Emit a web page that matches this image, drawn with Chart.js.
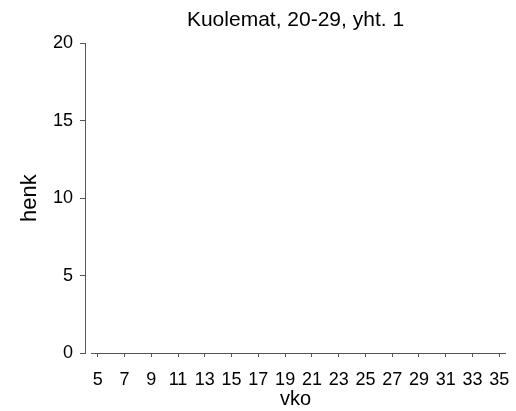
<!DOCTYPE html>
<html>
<head>
<meta charset="utf-8">
<script src="https://cdn.jsdelivr.net/npm/chart.js@4/dist/chart.umd.min.js"></script>
<style>
  html, body { margin: 0; padding: 0; background: #fff; }
  #wrap { width: 516px; height: 411px; }
</style>
</head>
<body>
<div id="wrap"><canvas id="myChart"></canvas></div>
<script>
const weeks = [5, 6, 7, 8, 9, 10, 11, 12, 13, 14, 15, 16, 17, 18, 19, 20,
  21, 22, 23, 24, 25, 26, 27, 28, 29, 30, 31, 32, 33, 34, 35];
const deaths = [0, 0, 0, 0, 0, 0, 0, 0, 0, 0, 0, 0, 0, 0, 0, 0,
  0, 0, 0, 0, 0, 0, 0, 0, 0, 0, 0, 0, 0, 0, 0];
const weekTicks = [5, 7, 9, 11, 13, 15, 17, 19, 21, 23, 25, 27, 29, 31, 33, 35];
const yTicks = [0, 5, 10, 15, 20];

const axisColor = "#555";
const fontFamily = "'Liberation Sans', Arial, sans-serif";

// x axis line only spans the bar region, like the original plot
const xAxisLine = {
  id: "xAxisLine",
  afterDraw(chart) {
    const { ctx, scales } = chart;
    const x = scales.x;
    const y0 = Math.round(scales.y.getPixelForValue(0));
    ctx.save();
    ctx.strokeStyle = axisColor;
    ctx.lineWidth = 1;
    ctx.beginPath();
    ctx.moveTo(x.getPixelForValue(weeks[0] - 0.5), y0 + 0.5);
    ctx.lineTo(x.getPixelForValue(weeks[weeks.length - 1] + 0.5), y0 + 0.5);
    ctx.stroke();
    ctx.restore();
  },
};

const ctx = document.getElementById("myChart");
new Chart(ctx, {
  type: "bar",
  data: {
    datasets: [
      {
        data: weeks.map((w, i) => ({ x: w, y: deaths[i] })),
        backgroundColor: "#808080",
        borderWidth: 0,
        barPercentage: 0.85,
        categoryPercentage: 1,
      },
    ],
  },
  options: {
    responsive: true,
    maintainAspectRatio: false,
    animation: false,
    layout: { padding: { left: 0, right: 10, top: 0, bottom: 0 } },
    plugins: {
      legend: { display: false },
      tooltip: { enabled: false },
      title: {
        display: true,
        fullSize: false,
        text: "Kuolemat, 20-29, yht. 1",
        color: "#000",
        font: { family: fontFamily, size: 21, weight: "normal" },
        padding: { top: 8, bottom: 10 },
      },
    },
    scales: {
      x: {
        type: "linear",
        min: 4.05,
        max: 35.5,
        offset: false,
        afterBuildTicks: (axis) => {
          axis.ticks = weekTicks.map((v) => ({ value: v }));
        },
        afterFit: (scale) => {
          scale.height = 58;
          scale.paddingLeft = 0;
          scale.paddingRight = 0;
        },
        border: { display: false },
        grid: {
          drawOnChartArea: false,
          offset: false,
          color: axisColor,
          tickLength: 4,
        },
        ticks: {
          color: "#000",
          padding: 12,
          maxRotation: 0,
          autoSkip: false,
          font: { family: fontFamily, size: 18 },
        },
        title: {
          display: true,
          text: "vko",
          color: "#000",
          font: { family: fontFamily, size: 20 },
          padding: { top: 0, bottom: 0 },
        },
      },
      y: {
        min: 0,
        max: 20,
        afterBuildTicks: (axis) => {
          axis.ticks = yTicks.map((v) => ({ value: v }));
        },
        afterFit: (scale) => {
          scale.width = 85;
        },
        border: { display: true, color: axisColor },
        grid: {
          drawOnChartArea: false,
          color: axisColor,
          tickLength: 5,
        },
        ticks: {
          color: "#000",
          padding: 7,
          font: { family: fontFamily, size: 18 },
        },
        title: {
          display: true,
          text: "henk",
          color: "#000",
          font: { family: fontFamily, size: 22 },
          padding: { top: 17, bottom: 0 },
        },
      },
    },
  },
  plugins: [xAxisLine],
});
</script>
</body>
</html>
